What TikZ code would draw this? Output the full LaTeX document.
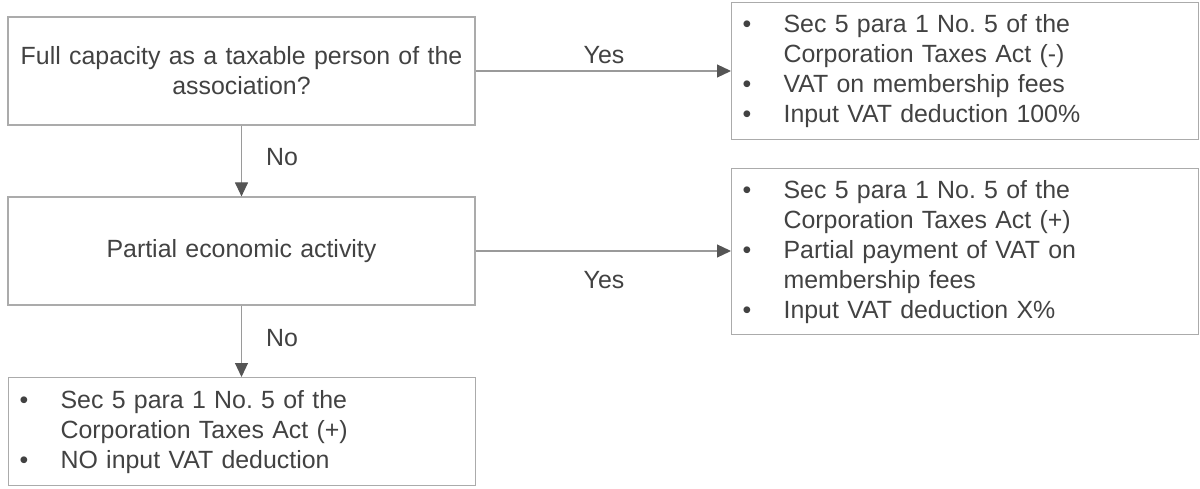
\documentclass[tikz,border=0pt]{standalone}
\usepackage{fontspec}
\setmainfont{Liberation Sans}
\usepackage{tikz}
\usetikzlibrary{arrows.meta}

\definecolor{boxgray}{HTML}{ABABAB}
\definecolor{linegray}{HTML}{9A9A9A}
\definecolor{headgray}{HTML}{555555}
\definecolor{txtgray}{HTML}{424242}

\newcommand{\bul}{\makebox[41pt][l]{\textbullet}}
\newcommand{\cont}{\hspace*{41pt}}
\frenchspacing

\tikzset{
  box/.style={draw=boxgray, line width=1.2pt, text=txtgray, minimum width=467pt, minimum height=108pt, inner sep=0pt},
  qbox/.style={box, text width=460pt, align=center},
  lbox/.style={box, text width=445pt, inner xsep=11pt, align=left, anchor=north west},
  flow/.style={draw=linegray, line width=1.2pt, -{Triangle[length=14pt,width=13pt,color=headgray]}},
  lbl/.style={text=txtgray}
}

\begin{document}
\begin{tikzpicture}[x=1pt, y=-1pt, font=\fontsize{24.9}{30}\selectfont]
        \useasboundingbox (0,0) rectangle (1200,489);

        % question boxes on the left
        \node[qbox] (full) at (241.5,71) {Full capacity as a taxable person of the\\ association?};
        \node[qbox] (part) at (241.5,251) {Partial economic activity};

        % result boxes
        \node[lbox, minimum height=137pt] (resfull) at (731,2)
          {\bul Sec 5 para 1 No. 5 of the\\ \cont Corporation Taxes Act (-)\\ \bul VAT on membership fees\\ \bul Input VAT deduction 100\%};
        \node[lbox, minimum height=166pt] (respart) at (731,168)
          {\bul Sec 5 para 1 No. 5 of the\\ \cont Corporation Taxes Act (+)\\ \bul Partial payment of VAT on\\ \cont membership fees\\ \bul Input VAT deduction X\%};
        \node[lbox, minimum height=108pt] (resnone) at (8,377)
          {\bul Sec 5 para 1 No. 5 of the\\ \cont Corporation Taxes Act (+)\\ \bul NO input VAT deduction};

        % coordinates where the yes arrows end
        \coordinate (endfull) at (resfull.west |- full.east);
        \coordinate (endpart) at (respart.west |- part.east);

        % yes / no connections
        \draw[flow] (full.east) -- (endfull);
        \draw[flow] (part.east) -- (endpart);
        \draw[flow] (full.south) -- (part.north);
        \draw[flow] (part.south) -- (resnone.north -| part.south);

        % write yes, no
        \node[lbl] (yes1) at (604,55) {Yes};
        \node[lbl] (yes2) at (604,280) {Yes};
        \node[lbl] (no1) at (282,157) {No};
        \node[lbl] (no2) at (282,338) {No};

\end{tikzpicture}
\end{document}
